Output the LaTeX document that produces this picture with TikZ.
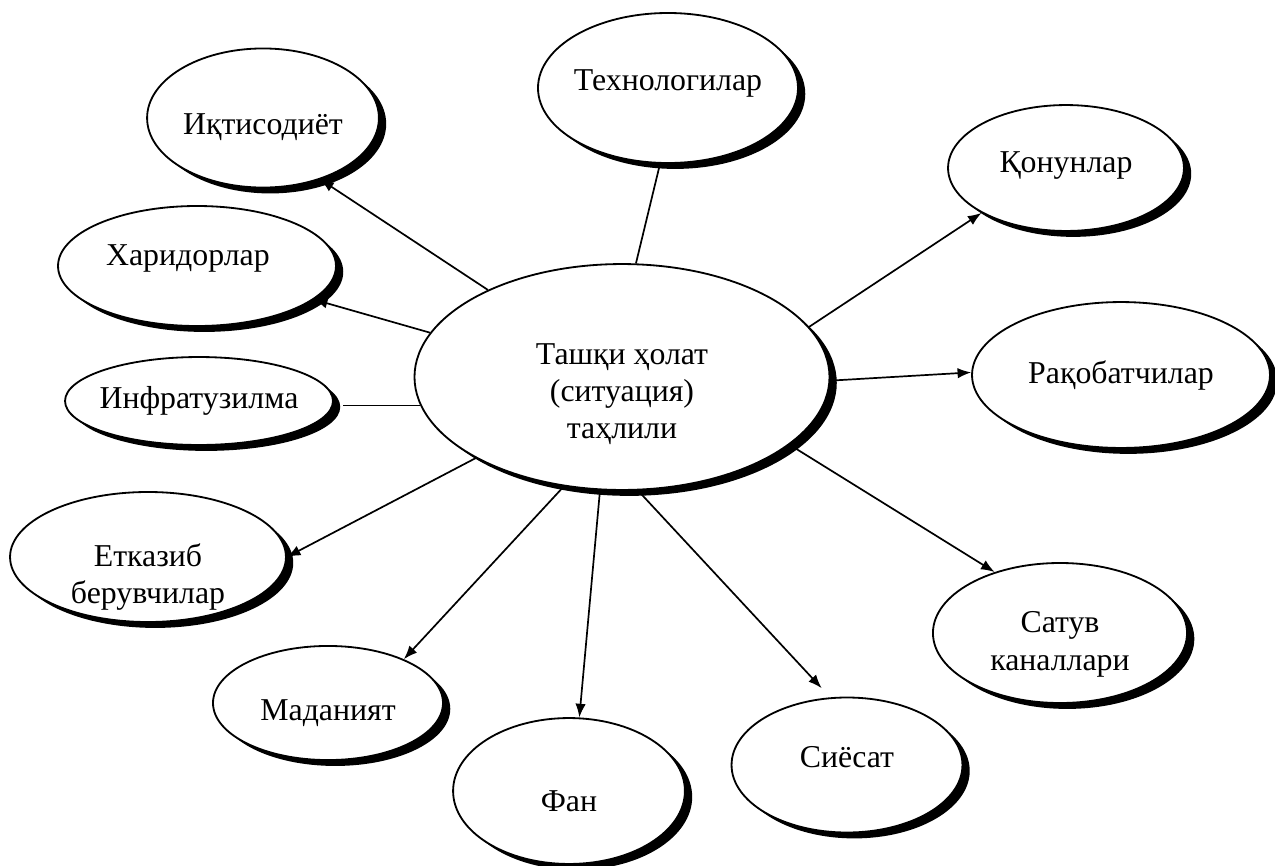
\documentclass[tikz,border=0pt]{standalone}
\usepackage{fontspec}
\setmainfont{Liberation Serif}
\usetikzlibrary{arrows.meta, shapes.geometric, shadows}

\begin{document}
\begin{tikzpicture}[x=0.44pt, y=-0.44pt, >={Latex[length=6pt,width=4.6pt]},
  oval/.style={ellipse, draw, thick, fill=white, inner sep=0pt,
    drop shadow={shadow xshift=3.2pt, shadow yshift=-2.6pt,
      fill=black, opacity=1}},
  every label/.style={align=center, font=\fontsize{14}{16.3}\selectfont},
  link/.style={line width=0.75pt}]
  \useasboundingbox (0,0) rectangle (1275,866);

  % centre
  \node[oval, minimum width=182.6pt, minimum height=99.4pt,
    label={[yshift=-7.5pt]center:Ташқи ҳолат\\(ситуация)\\таҳлили}] (sit)
    at (622,377) {};

  % left side
  \node[oval, minimum width=102pt, minimum height=61.2pt,
    label={[yshift=-4pt]center:Иқтисодиёт}] (ikt) at (263,118) {};
  \node[oval, minimum width=122.3pt, minimum height=52.8pt,
    label={[xshift=-4pt, yshift=3.5pt]center:Харидорлар}] (xar) at (197,266) {};
  \node[oval, minimum width=117.9pt, minimum height=38.7pt,
    label={center:Инфратузилма}] (inf) at (199,401) {};
  \node[oval, minimum width=121.4pt, minimum height=57.2pt,
    label={[yshift=-9pt]center:Етказиб\\берувчилар}] (etk) at (148,557) {};

  % top and right side
  \node[oval, minimum width=114.4pt, minimum height=66pt,
    label={[yshift=2pt]center:Технологилар}] (tech) at (668,88) {};
  \node[oval, minimum width=103.8pt, minimum height=55.4pt,
    label={[yshift=1pt]center:Қонунлар}] (qon) at (1066,168) {};
  \node[oval, minimum width=131.1pt, minimum height=64.2pt,
    label={center:Рақобатчилар}] (rak) at (1121,375) {};
  \node[oval, minimum width=111.8pt, minimum height=61.6pt,
    label={[yshift=-5pt]center:Сатув\\каналлари}] (sat) at (1060,633) {};

  % bottom
  \node[oval, minimum width=101.2pt, minimum height=50.2pt,
    label={[yshift=-4.5pt]center:Маданият}] (mad) at (328,703) {};
  \node[oval, minimum width=102pt, minimum height=64.2pt,
    label={[yshift=-4.5pt]center:Фан}] (fan) at (569,791) {};
  \node[oval, minimum width=101.6pt, minimum height=59.4pt,
    label={[yshift=3.5pt]center:Сиёсат}] (sie) at (847,765) {};

  % connectors
  \draw[link, ->] (sit.147) -- (ikt.-47);
  \draw[link, ->] (sit.167) -- (xar.-16);
  \draw[link, shorten >=4pt] (sit.188) -- (sit.188 -| inf.east);
  \draw[link, ->] (sit.-151) -- (etk.0);
  \draw[link] (sit.83) -- (tech.-96);
  \draw[link, ->] (sit.15) -- (qon.-152);
  \draw[link, ->] (sit.-1) -- (rak.179);
  \draw[link, ->] (sit.-22) -- (sat.137);
  \draw[link, ->] (sit.-118) -- (mad.30);
  \draw[link, ->] (sit.-101) -- (fan.82);
  \draw[link, ->, shorten >=5.5pt] (sit.-82) -- (sie.104);
\end{tikzpicture}
\end{document}
